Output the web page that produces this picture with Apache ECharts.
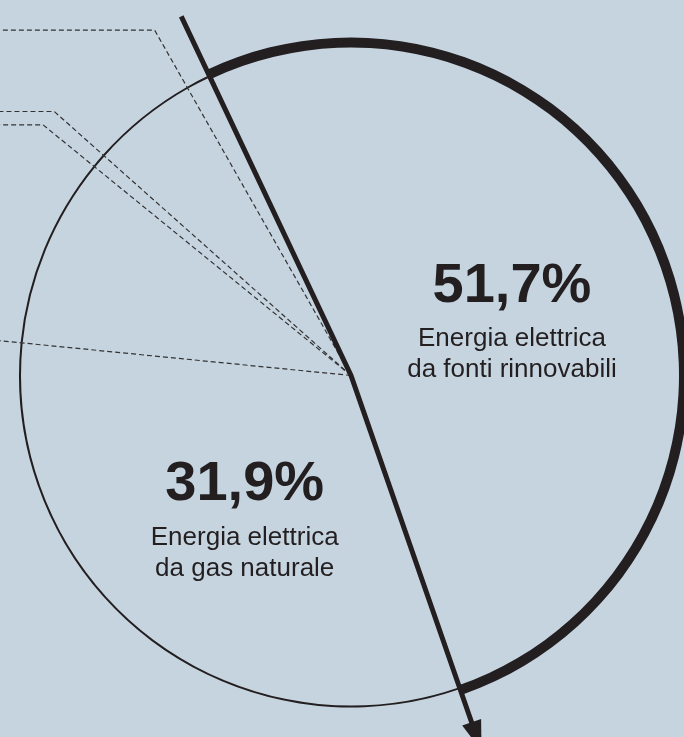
<!DOCTYPE html>
<html>
<head>
<meta charset="utf-8">
<script src="https://cdn.jsdelivr.net/npm/echarts@6/dist/echarts.min.js"></script>
<style>
html,body{margin:0;padding:0;background:#c6d4e0;}
#c{width:684px;height:737px;}
</style>
</head>
<body>
<div id="c"></div>
<script>
// ---- data ----
const categories = [
  'Energia elettrica da fonti rinnovabili',
  'Energia elettrica da gas naturale',
  'Energia elettrica da carbone',
  'Energia elettrica da prodotti petroliferi',
  'Energia elettrica da nucleare',
  'Energia elettrica da altre fonti'
];
const shares = [51.7, 31.9, 9.3, 0.7, 5.2, 1.2];
const labelled = [true, true, false, false, false, false];
const leaderSlices = [2, 3, 4, 5];   // slices whose start edge carries a dashed leader
const arrowSlice = 0;                // slice bounded by the solid arrow line

// ---- layout ----
const CX = 351, CY = 375.5, R = 331, START = 115.3;
const INK = '#231f20';
const labelOffsets = {0: [5, 6], 1: [-2, 8]};

const starts = [];
shares.reduce((acc, v, i) => { starts[i] = acc; return acc + v; }, 0);

const fmt = v => v.toFixed(1).replace('.', ',') + '%';

const chart = echarts.init(document.getElementById('c'), null, {renderer: 'canvas'});

const labelData = categories.map((name, i) => ({
  name, value: shares[i],
  itemStyle: {color: 'rgba(0,0,0,0)'},
  label: {show: labelled[i], offset: labelOffsets[i] || [0, 0]}
}));
const thinData = categories.map((name, i) => ({name, value: shares[i], itemStyle: {color: INK}}));
const thickData = categories.map((name, i) => ({
  name, value: shares[i],
  itemStyle: {color: i === arrowSlice ? INK : 'rgba(0,0,0,0)'}
}));

const pieBase = {
  type: 'pie', center: [CX, CY], startAngle: START, clockwise: true,
  silent: true, avoidLabelOverlap: false, labelLine: {show: false},
  emphasis: {disabled: true}, z: 1
};

const option = {
  backgroundColor: '#c6d4e0',
  animation: false,
  polar: {center: [CX, CY], radius: R},
  angleAxis: {type: 'value', min: 0, max: 100, startAngle: START, clockwise: true, show: false},
  radiusAxis: {type: 'value', min: 0, max: 1, show: false},
  series: [
    Object.assign({}, pieBase, {
      name: 'labels', radius: [0, R], data: labelData,
      label: {
        position: 'inside', color: INK, fontFamily: 'Liberation Sans',
        formatter: p => '{p|' + fmt(p.value) + '}\n' +
          p.name.replace(' da ', '\nda ').split('\n').map(s => '{n|' + s + '}').join('\n'),
        rich: {
          p: {fontSize: 56, fontWeight: 'bold', lineHeight: 74, align: 'center', color: INK, fontFamily: 'Liberation Sans'},
          n: {fontSize: 26, lineHeight: 31, align: 'center', color: INK, fontFamily: 'Liberation Sans'}
        }
      }
    }),
    Object.assign({}, pieBase, {name: 'outline', radius: [R - 1, R + 1], data: thinData, label: {show: false}}),
    Object.assign({}, pieBase, {name: 'highlight', radius: [R - 3, R + 7], data: thickData, label: {show: false}}),
    {
      type: 'custom', coordinateSystem: 'polar', silent: true, z: 2,
      data: leaderSlices.map(i => [0, starts[i]]),
      renderItem: (params, api) => {
        const a = api.value(1);
        const c = api.coord([0, a]);
        const p = api.coord([1, a]);
        const bend = [c[0] + (p[0] - c[0]) * 1.2, c[1] + (p[1] - c[1]) * 1.2];
        return {
          type: 'polyline',
          shape: {points: [c, bend, [-20, bend[1]]]},
          style: {stroke: '#333333', lineWidth: 1.2, lineDash: [5, 3], fill: 'none'}
        };
      }
    },
    {
      type: 'custom', coordinateSystem: 'polar', silent: true, z: 3,
      data: [[starts[arrowSlice], starts[arrowSlice] + shares[arrowSlice]]],
      renderItem: (params, api) => {
        const a0 = api.value(0), a1 = api.value(1);
        const c = api.coord([0, a0]);
        const p0 = api.coord([1, a0]);
        const p1 = api.coord([1, a1]);
        const k = 1.2;
        const s = [c[0] + (p0[0] - c[0]) * k, c[1] + (p0[1] - c[1]) * k];
        const e = [c[0] + (p1[0] - c[0]) * k, c[1] + (p1[1] - c[1]) * k];
        const dx = e[0] - c[0], dy = e[1] - c[1], L = Math.hypot(dx, dy);
        const ux = dx / L, uy = dy / L;
        const head = 30, hw = 10;
        const base = [e[0] - ux * head, e[1] - uy * head];
        return {
          type: 'group',
          children: [
            {type: 'polyline', shape: {points: [s, c, [base[0] + ux * 2, base[1] + uy * 2]]},
             style: {stroke: INK, lineWidth: 5, fill: 'none', lineJoin: 'miter', lineCap: 'butt'}},
            {type: 'polygon', shape: {points: [e, [base[0] - uy * hw, base[1] + ux * hw], [base[0] + uy * hw, base[1] - ux * hw]]},
             style: {fill: INK}}
          ]
        };
      }
    }
  ]
};
chart.setOption(option);
</script>
</body>
</html>
